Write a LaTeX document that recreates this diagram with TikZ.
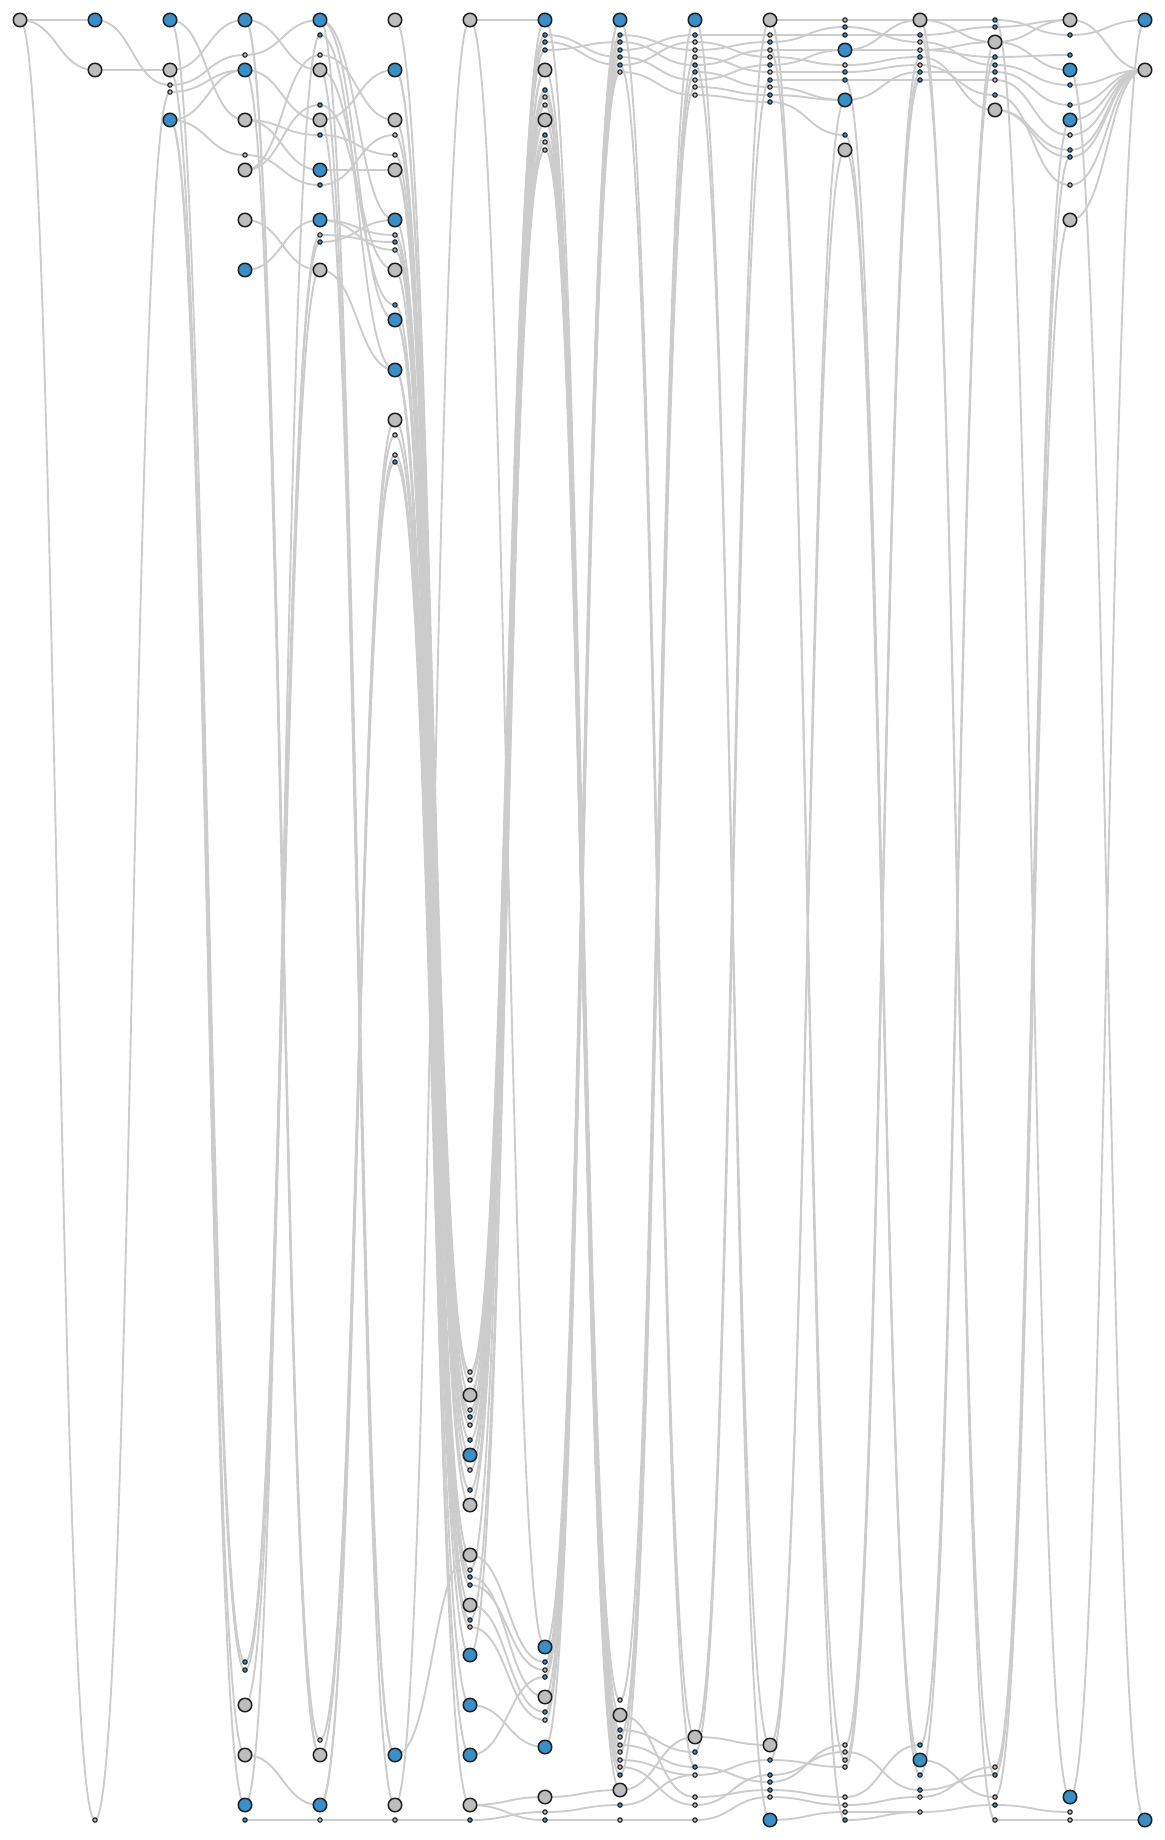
\documentclass[tikz,border=0pt]{standalone}
\usetikzlibrary{backgrounds,calc}

\definecolor{nodeblue}{HTML}{3A8FC8}
\definecolor{nodegrey}{HTML}{BDBDBD}
\definecolor{nodeline}{HTML}{1E1E1E}
\definecolor{linkgrey}{HTML}{CCCCCC}

\tikzset{
  nd/.style={circle,draw=nodeline,inner sep=0pt},
  bb/.style={nd,fill=nodeblue,minimum size=13.5pt,line width=1.5pt},
  bg/.style={nd,fill=nodegrey,minimum size=13.5pt,line width=1.5pt},
  sb/.style={nd,fill=nodeblue,minimum size=4.4pt,line width=1.1pt},
  sg/.style={nd,fill=nodegrey,minimum size=4.4pt,line width=1.1pt},
  conn/.style={draw=linkgrey,line width=1.9pt},
}
% collegamento orizzontale tra due colonne vicine
\newcommand{\colink}[2]{%
  \draw[conn] (#1.center) .. controls ($(#1.center)+(37.5,0)$) and ($(#2.center)+(-37.5,0)$) .. (#2.center);}

\begin{document}
\begin{tikzpicture}[x=1pt,y=-1pt]
\useasboundingbox (0,0) rectangle (1165,1840);

        % Nodi, colonna per colonna
        \foreach \y/\s in {20/bg}
          \node[\s] (c0-\y) at (20,\y) {};
        \foreach \y/\s in {20/bb,70/bg,1820/sg}
          \node[\s] (c1-\y) at (95,\y) {};
        \foreach \y/\s in {20/bb,70/bg,85/sg,92/sg,120/bb}
          \node[\s] (c2-\y) at (170,\y) {};
        \foreach \y/\s in {20/bb,55/sg,70/bb,120/bg,155/sg,170/bg,220/bg,270/bb,
                           1662/sb,1670/sb,1705/bg,1755/bg,1805/bb,1820/sb}
          \node[\s] (c3-\y) at (245,\y) {};
        \foreach \y/\s in {20/bb,35/sb,55/sg,70/bg,105/sb,120/bg,135/sb,170/bb,185/sb,
                           220/bb,235/sg,242/sb,270/bg,1740/sg,1755/bg,1805/bb,1820/sg}
          \node[\s] (c4-\y) at (320,\y) {};
        \foreach \y/\s in {20/bg,70/bb,120/bg,135/sg,155/sg,170/bg,220/bb,235/sg,242/sb,
                           250/sg,270/bg,305/sb,320/bb,370/bb,420/bg,435/sg,455/sg,462/sb,
                           1755/bb,1805/bg,1820/sg}
          \node[\s] (c5-\y) at (395,\y) {};
        \foreach \y/\s in {20/bg,1372/sg,1380/sg,1395/bg,1410/sg,1417/sb,1425/sg,1440/sb,
                           1455/bb,1470/sg,1490/sb,1505/bg,1555/bg,1570/sg,1577/sb,1585/sb,
                           1605/bg,1620/sb,1627/sg,1655/bb,1705/bb,1755/bb,1805/bg,1820/sb}
          \node[\s] (c6-\y) at (470,\y) {};
        \foreach \y/\s in {20/bb,35/sb,42/sb,50/sb,70/bg,90/sb,97/sg,105/sg,120/bg,135/sb,
                           142/sg,150/sg,1647/bb,1662/sb,1670/sg,1677/sb,1697/bg,1712/sb,
                           1720/sg,1747/bb,1797/bg,1812/sg,1820/sb}
          \node[\s] (c7-\y) at (545,\y) {};
        \foreach \y/\s in {20/bb,35/sb,42/sb,50/sb,57/sb,65/sb,72/sg,1700/sg,1715/bg,1730/sb,
                           1737/sg,1745/sg,1752/sg,1760/sg,1767/sg,1775/sb,1790/bg,1805/sb,1820/sg}
          \node[\s] (c8-\y) at (620,\y) {};
        \foreach \y/\s in {20/bb,35/sb,42/sg,50/sg,57/sg,65/sb,72/sb,80/sg,87/sg,95/sg,
                           1737/bg,1752/sb,1767/sb,1775/sg,1797/sg,1805/sg,1820/sg}
          \node[\s] (c9-\y) at (695,\y) {};
        \foreach \y/\s in {20/bg,35/sg,42/sb,50/sg,57/sg,65/sb,72/sg,80/sb,87/sg,95/sb,102/sb,
                           1745/bg,1760/sb,1775/sb,1782/sb,1790/sb,1797/sg,1820/bb}
          \node[\s] (c10-\y) at (770,\y) {};
        \foreach \y/\s in {20/sg,27/sb,35/sb,50/bb,65/sg,72/sb,80/sb,100/bb,135/sb,150/bg,
                           1745/sg,1752/sg,1760/sg,1767/sg,1797/sg,1805/sg,1812/sg,1820/sb}
          \node[\s] (c11-\y) at (845,\y) {};
        \foreach \y/\s in {20/bg,35/sb,42/sg,50/sg,57/sb,65/sg,72/sb,80/sb,
                           1745/sb,1760/bb,1775/sb,1790/sb,1797/sg,1812/sg}
          \node[\s] (c12-\y) at (920,\y) {};
        \foreach \y/\s in {20/sb,27/sb,42/bg,57/sb,65/sb,72/sb,80/sg,95/sb,110/bg,
                           1767/sg,1775/sb,1797/sg,1805/sb,1820/sg}
          \node[\s] (c13-\y) at (995,\y) {};
        \foreach \y/\s in {20/bg,35/sb,55/sb,70/bb,85/sb,105/sb,120/bb,135/sg,150/sb,157/sb,
                           185/sg,220/bg,1797/bb,1812/sg,1820/sg}
          \node[\s] (c14-\y) at (1070,\y) {};
        \foreach \y/\s in {20/bb,70/bg,1820/bb}
          \node[\s] (c15-\y) at (1145,\y) {};

        \begin{scope}[on background layer]
        % Collegamenti tra colonne 0-1 e 1-2
        \foreach \a/\b in {c0-20/c1-20,c0-20/c1-70,c0-20/c1-1820,
                           c1-20/c2-85,c1-70/c2-70,c1-1820/c2-92}
          {\colink{\a}{\b}}
        % Collegamenti tra colonne 2-3
        \foreach \a/\b in {c2-20/c3-120,c2-70/c3-20,c2-85/c3-55,c2-92/c3-70,c2-120/c3-70,
                           c2-120/c3-155,c2-20/c3-1662,c2-120/c3-1670,c2-120/c3-1755,c2-70/c3-1805}
          {\colink{\a}{\b}}
        % Collegamenti tra colonne 3-4
        \foreach \a/\b in {c3-20/c4-70,c3-55/c4-20,c3-70/c4-120,c3-120/c4-135,c3-120/c4-170,
                           c3-155/c4-185,c3-170/c4-55,c3-170/c4-105,c3-220/c4-270,c3-270/c4-220,
                           c3-20/c4-1740,c3-20/c4-1755,c3-70/c4-1755,c3-1662/c4-235,c3-1670/c4-242,
                           c3-1705/c4-270,c3-1805/c4-35,c3-1755/c4-1805,c3-1820/c4-1820}
          {\colink{\a}{\b}}
        % Collegamenti tra colonne 4-5
        \foreach \a/\b in {c4-20/c5-220,c4-20/c5-320,c4-35/c5-370,c4-55/c5-120,c4-70/c5-305,
                           c4-105/c5-270,c4-120/c5-70,c4-135/c5-155,c4-170/c5-170,c4-185/c5-135,
                           c4-220/c5-235,c4-220/c5-250,c4-235/c5-242,c4-242/c5-220,c4-270/c5-370,
                           c4-20/c5-1755,c4-70/c5-1805,c4-120/c5-1755,c4-1740/c5-462,c4-1755/c5-435,
                           c4-1805/c5-420,c4-1805/c5-455,c4-1820/c5-1820}
          {\colink{\a}{\b}}
        % Collegamenti tra colonne 5-6
        \foreach \a/\b in {c5-20/c6-1372,c5-70/c6-1380,c5-70/c6-1395,c5-120/c6-1410,
                           c5-135/c6-1417,c5-155/c6-1425,c5-170/c6-1440,c5-170/c6-1455,
                           c5-220/c6-1470,c5-235/c6-1490,c5-242/c6-1505,c5-250/c6-1555,
                           c5-270/c6-1570,c5-305/c6-1577,c5-320/c6-1585,c5-320/c6-1605,
                           c5-370/c6-1620,c5-370/c6-1805,c5-420/c6-1627,c5-435/c6-1655,
                           c5-455/c6-1705,c5-462/c6-1755,c5-1805/c6-20,c5-1755/c6-1555,
                           c5-1820/c6-1820}
          {\colink{\a}{\b}}
        % Collegamenti tra colonne 6-7
        \foreach \a/\b in {c6-20/c7-20,c6-20/c7-1647,c6-1372/c7-35,c6-1380/c7-42,c6-1395/c7-50,
                           c6-1395/c7-70,c6-1410/c7-90,c6-1417/c7-97,c6-1425/c7-105,c6-1440/c7-120,
                           c6-1455/c7-120,c6-1455/c7-135,c6-1470/c7-142,c6-1490/c7-150,
                           c6-1505/c7-70,c6-1570/c7-20,c6-1585/c7-1670,c6-1620/c7-105,
                           c6-1627/c7-1720,c6-1655/c7-90,c6-1555/c7-1662,c6-1577/c7-1697,
                           c6-1605/c7-1712,c6-1705/c7-1747,c6-1755/c7-1677,c6-1805/c7-1797,
                           c6-1805/c7-1820,c6-1820/c7-1812}
          {\colink{\a}{\b}}
        % Collegamenti tra colonne 7-8
        \foreach \a/\b in {c7-35/c8-57,c7-42/c8-65,c7-50/c8-42,c7-20/c8-1700,c7-70/c8-1715,
                           c7-90/c8-1730,c7-97/c8-1737,c7-105/c8-1745,c7-120/c8-1752,
                           c7-135/c8-1760,c7-142/c8-1767,c7-150/c8-1775,c7-120/c8-1790,
                           c7-1647/c8-20,c7-1662/c8-35,c7-1670/c8-50,c7-1677/c8-72,c7-1697/c8-20,
                           c7-1712/c8-42,c7-1720/c8-65,c7-1747/c8-57,c7-1797/c8-1790,
                           c7-1812/c8-1805,c7-1820/c8-1820}
          {\colink{\a}{\b}}
        % Collegamenti tra colonne 8-9
        \foreach \a/\b in {c8-35/c9-50,c8-42/c9-65,c8-50/c9-35,c8-57/c9-80,c8-65/c9-42,
                           c8-72/c9-95,c8-20/c9-1737,c8-65/c9-1767,c8-1700/c9-20,c8-1737/c9-57,
                           c8-1752/c9-72,c8-1775/c9-87,c8-1715/c9-1797,c8-1730/c9-1752,
                           c8-1745/c9-1767,c8-1760/c9-1775,c8-1767/c9-1805,c8-1790/c9-1737,
                           c8-1805/c9-1775,c8-1820/c9-1820}
          {\colink{\a}{\b}}
        % Collegamenti tra colonne 9-10
        \foreach \a/\b in {c9-35/c10-35,c9-42/c10-57,c9-50/c10-42,c9-57/c10-72,c9-65/c10-50,
                           c9-72/c10-87,c9-80/c10-65,c9-87/c10-95,c9-95/c10-102,c9-20/c10-1820,
                           c9-65/c10-1745,c9-1737/c10-20,c9-1752/c10-80,c9-1737/c10-1745,
                           c9-1767/c10-1782,c9-1775/c10-1760,c9-1797/c10-1790,c9-1805/c10-1775,
                           c9-1820/c10-1797}
          {\colink{\a}{\b}}
        % Collegamenti tra colonne 10-11
        \foreach \a/\b in {c10-20/c11-20,c10-35/c11-35,c10-42/c11-27,c10-50/c11-50,
                           c10-57/c11-65,c10-65/c11-50,c10-72/c11-72,c10-80/c11-80,
                           c10-87/c11-100,c10-95/c11-100,c10-102/c11-135,c10-20/c11-1820,
                           c10-50/c11-1760,c10-1745/c11-150,c10-1760/c11-100,c10-1775/c11-1752,
                           c10-1782/c11-1745,c10-1790/c11-1797,c10-1797/c11-1805,
                           c10-1820/c11-1812,c10-1760/c11-1767}
          {\colink{\a}{\b}}
        % Collegamenti tra colonne 11-12
        \foreach \a/\b in {c11-20/c12-20,c11-27/c12-42,c11-35/c12-35,c11-50/c12-50,
                           c11-50/c12-20,c11-65/c12-57,c11-72/c12-65,c11-80/c12-80,
                           c11-100/c12-72,c11-135/c12-1760,c11-150/c12-1760,c11-80/c12-1775,
                           c11-1745/c12-57,c11-1760/c12-72,c11-1767/c12-80,c11-1752/c12-1790,
                           c11-1797/c12-1745,c11-1805/c12-1797,c11-1812/c12-1812,c11-1820/c12-1812}
          {\colink{\a}{\b}}
        % Collegamenti tra colonne 12-13
        \foreach \a/\b in {c12-20/c13-20,c12-20/c13-42,c12-35/c13-27,c12-42/c13-65,
                           c12-50/c13-57,c12-50/c13-42,c12-57/c13-110,c12-65/c13-95,
                           c12-72/c13-72,c12-80/c13-80,c12-20/c13-1820,c12-35/c13-1775,
                           c12-1745/c13-42,c12-1775/c13-57,c12-1760/c13-1797,c12-1797/c13-1767,
                           c12-1812/c13-1805,c12-1790/c13-1775}
          {\colink{\a}{\b}}
        % Collegamenti tra colonne 13-14 e 14-15
        \foreach \a/\b in {c13-20/c14-35,c13-27/c14-20,c13-42/c14-70,c13-42/c14-20,
                           c13-57/c14-55,c13-65/c14-85,c13-72/c14-105,c13-80/c14-135,
                           c13-95/c14-185,c13-110/c14-150,c13-110/c14-157,c13-20/c14-1797,
                           c13-1767/c14-120,c13-1775/c14-157,c13-1797/c14-220,
                           c13-1805/c14-1812,c13-1820/c14-1820,
                           c14-20/c15-70,c14-35/c15-20,c14-85/c15-70,c14-105/c15-70,
                           c14-120/c15-70,c14-135/c15-70,c14-150/c15-70,c14-157/c15-70,
                           c14-185/c15-70,c14-220/c15-70,c14-70/c15-1820,c14-1797/c15-20,
                           c14-1820/c15-1820}
          {\colink{\a}{\b}}
        \end{scope}

\end{tikzpicture}
\end{document}
